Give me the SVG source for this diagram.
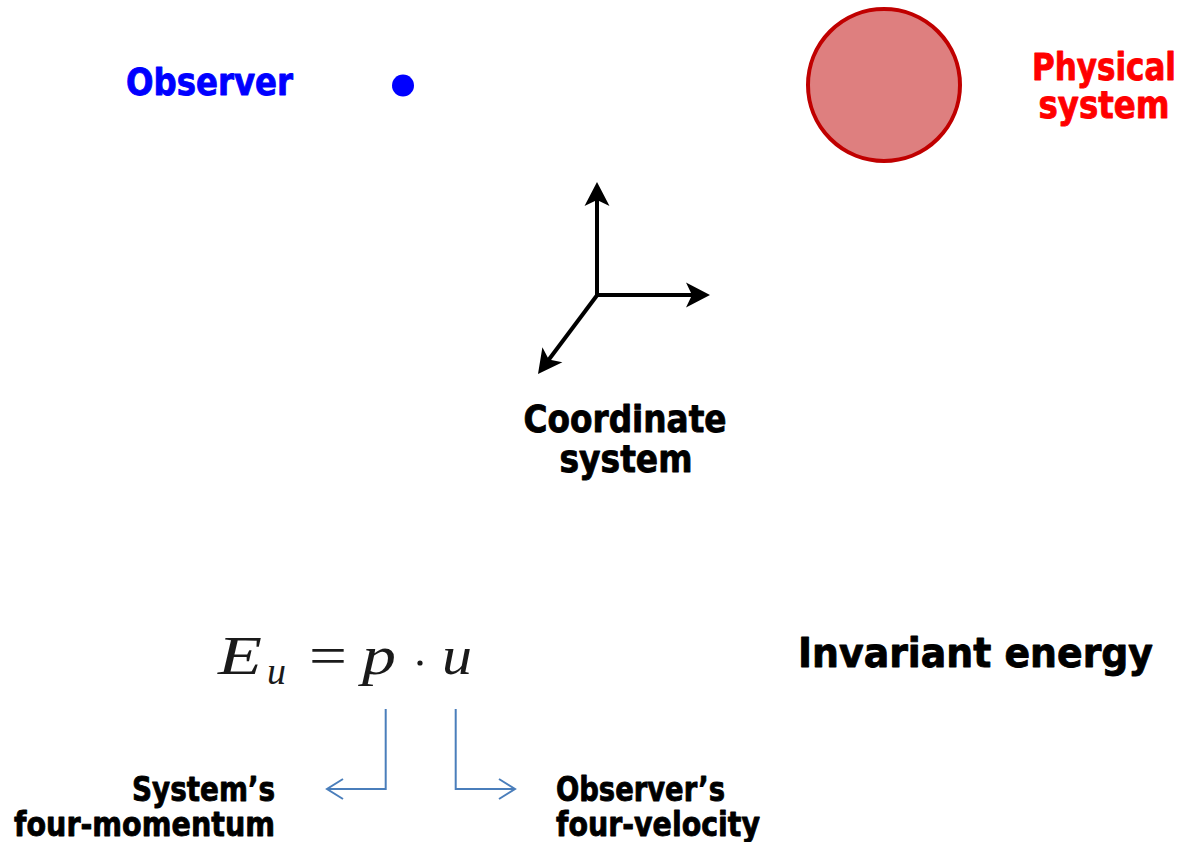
<svg xmlns="http://www.w3.org/2000/svg" width="1186" height="842" viewBox="0 0 1186 842">
<style>
.lbl{font-family:"DejaVu Sans","Liberation Sans",sans-serif;font-weight:bold;stroke-width:0.9;stroke-linejoin:round;}
.blk{fill:#000000;stroke:#000000;}
.blue{fill:#0000FF;stroke:#0000FF;}
.red{fill:#FF0000;stroke:#FF0000;}
.math{font-family:"Liberation Serif","DejaVu Serif",serif;fill:#1a1a1a;}
.axis{stroke:#000;stroke-width:4;fill:none;}
.conn{stroke:#4A7EBB;stroke-width:2;fill:none;}
</style>
<defs>
<marker id="stealth" markerUnits="userSpaceOnUse" markerWidth="28" markerHeight="28" viewBox="0 -14 28 28" refX="8" refY="0" orient="auto">
<path d="M0,-12.5 L24,0 L0,12.5 L6,0 Z" fill="#000"/>
</marker>
<marker id="chev" markerUnits="userSpaceOnUse" markerWidth="24" markerHeight="26" viewBox="-20 -13 24 26" refX="0" refY="0" orient="auto">
<path d="M-16,-10 L0,0 L-16,10" fill="none" stroke="#4A7EBB" stroke-width="2"/>
</marker>
</defs>
<rect width="1186" height="842" fill="#ffffff"/>

<g id="observer">
<text class="lbl blue" x="126" y="95" font-size="38" textLength="167" lengthAdjust="spacingAndGlyphs">Observer</text>
<circle cx="403" cy="85.5" r="11" fill="#0000FF"/>
</g>

<g id="physical-system">
<circle cx="884" cy="85" r="76" fill="#DE7F7F" stroke="#C00000" stroke-width="4"/>
<text class="lbl red" x="1104" y="80" font-size="37" text-anchor="middle" textLength="144" lengthAdjust="spacingAndGlyphs">Physical</text>
<text class="lbl red" x="1104" y="118" font-size="37" text-anchor="middle" textLength="131" lengthAdjust="spacingAndGlyphs">system</text>
</g>

<g id="coordinate-system">
<line class="axis" x1="597" y1="297" x2="597" y2="198" marker-end="url(#stealth)"/>
<line class="axis" x1="595" y1="295" x2="694" y2="295" marker-end="url(#stealth)"/>
<line class="axis" x1="598" y1="294" x2="547.6" y2="361.2" marker-end="url(#stealth)"/>
<text class="lbl blk" x="625" y="432" font-size="38" text-anchor="middle" textLength="203" lengthAdjust="spacingAndGlyphs">Coordinate</text>
<text class="lbl blk" x="626" y="472" font-size="38" text-anchor="middle" textLength="133" lengthAdjust="spacingAndGlyphs">system</text>
</g>

<g id="equation">
<text class="math" x="218" y="674" font-size="54" font-style="italic" textLength="44" lengthAdjust="spacingAndGlyphs">E</text>
<text class="math" x="267" y="684" font-size="38" font-style="italic">u</text>
<text class="math" x="309" y="674" font-size="54" textLength="38" lengthAdjust="spacingAndGlyphs">=</text>
<text class="math" x="362" y="674" font-size="54" font-style="italic" textLength="34" lengthAdjust="spacingAndGlyphs">p</text>
<circle cx="420" cy="663" r="2.6" fill="#1a1a1a"/>
<text class="math" x="442" y="674" font-size="54" font-style="italic" textLength="30" lengthAdjust="spacingAndGlyphs">u</text>
</g>

<g id="invariant-energy">
<text class="lbl blk" x="798" y="667" font-size="41" textLength="355" lengthAdjust="spacingAndGlyphs">Invariant energy</text>
</g>

<g id="connectors">
<path class="conn" d="M385.7,709 V789 H327" marker-end="url(#chev)"/>
<path class="conn" d="M455.7,709 V789 H515" marker-end="url(#chev)"/>
</g>

<g id="systems-four-momentum">
<text class="lbl blk" x="275" y="801" font-size="34" text-anchor="end" textLength="143" lengthAdjust="spacingAndGlyphs">System’s</text>
<text class="lbl blk" x="275" y="836" font-size="34" text-anchor="end" textLength="261" lengthAdjust="spacingAndGlyphs">four-momentum</text>
</g>

<g id="observers-four-velocity">
<text class="lbl blk" x="556" y="801" font-size="34" textLength="169" lengthAdjust="spacingAndGlyphs">Observer’s</text>
<text class="lbl blk" x="556" y="836" font-size="34" textLength="204" lengthAdjust="spacingAndGlyphs">four-velocity</text>
</g>
</svg>
